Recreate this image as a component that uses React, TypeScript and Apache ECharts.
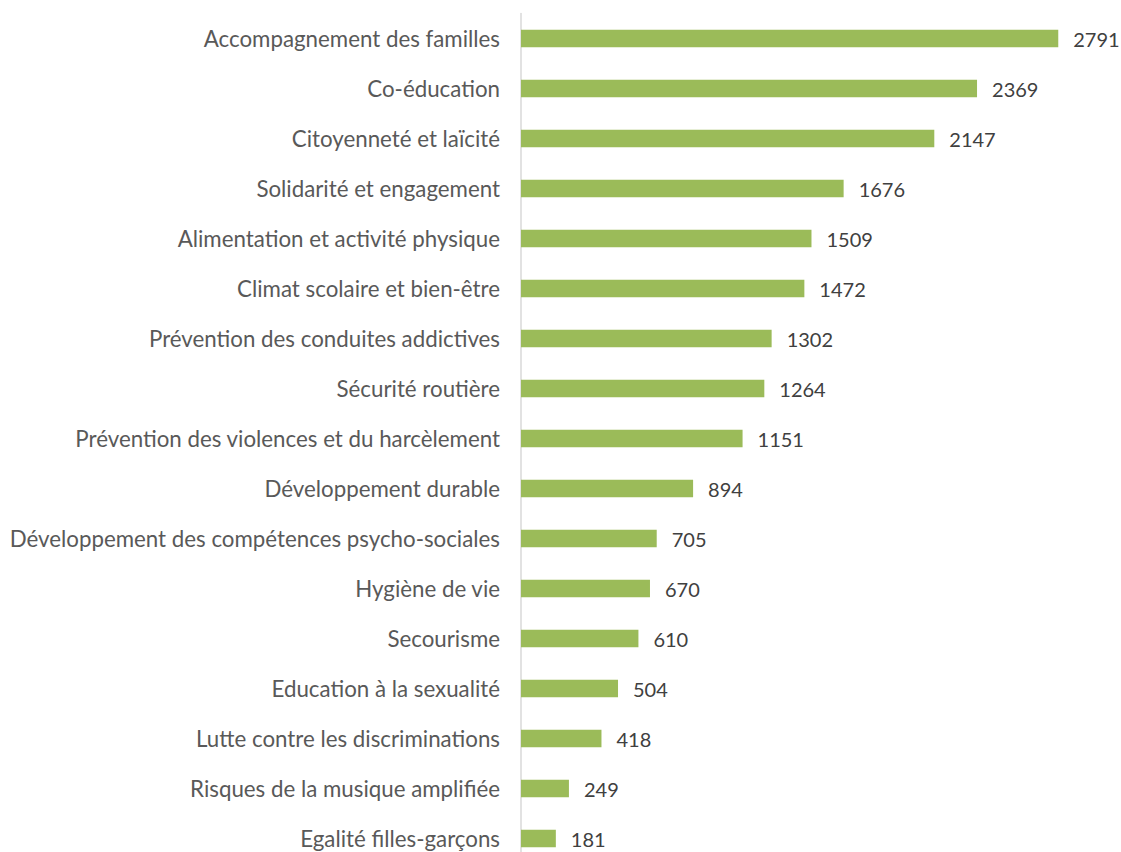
import React, { useEffect, useRef } from "react";
import * as echarts from "echarts";

const categories = [
  "Accompagnement des familles",
  "Co-éducation",
  "Citoyenneté et laïcité",
  "Solidarité et engagement",
  "Alimentation et activité physique",
  "Climat scolaire et bien-être",
  "Prévention des conduites addictives",
  "Sécurité routière",
  "Prévention des violences et du harcèlement",
  "Développement durable",
  "Développement des compétences psycho-sociales",
  "Hygiène de vie",
  "Secourisme",
  "Education à la sexualité",
  "Lutte contre les discriminations",
  "Risques de la musique amplifiée",
  "Egalité filles-garçons",
];

const values = [2791, 2369, 2147, 1676, 1509, 1472, 1302, 1264, 1151, 894, 705, 670, 610, 504, 418, 249, 181];

export default function App() {
  const ref = useRef<HTMLDivElement>(null);
  useEffect(() => {
    if (!ref.current) return;
    const chart = echarts.init(ref.current, undefined, { renderer: "svg" });
    chart.setOption({
      animation: false,
      backgroundColor: "#ffffff",
      grid: { left: 521, right: 22.5, top: 13.5, height: 850, containLabel: false },
      xAxis: {
        type: "value",
        min: 0,
        max: 3000,
        show: false,
      },
      yAxis: {
        type: "category",
        inverse: true,
        data: categories,
        axisLine: { show: true, lineStyle: { color: "#d9d9d9", width: 1.5 } },
        axisTick: { show: false },
        axisLabel: {
          margin: 21,
          color: "#595959",
          fontFamily: "Lato, 'Open Sans', sans-serif",
          fontSize: 22.3,
          padding: [0, 0, 3, 0],
        },
      },
      series: [
        {
          type: "bar",
          data: values,
          barWidth: 17.5,
          itemStyle: { color: "#9bbb59" },
          label: {
            show: true,
            position: "right",
            distance: 15,
            color: "#404040",
            fontFamily: "Lato, 'Open Sans', sans-serif",
            fontSize: 20,
            padding: [0, 0, 2, 0],
          },
        },
      ],
    });
    return () => chart.dispose();
  }, []);
  return (
    <div style={{ position: "fixed", left: 0, top: 0, width: 1121, height: 852, overflow: "hidden", background: "#fff" }}>
      <div ref={ref} style={{ width: 1121, height: 880 }} />
    </div>
  );
}
